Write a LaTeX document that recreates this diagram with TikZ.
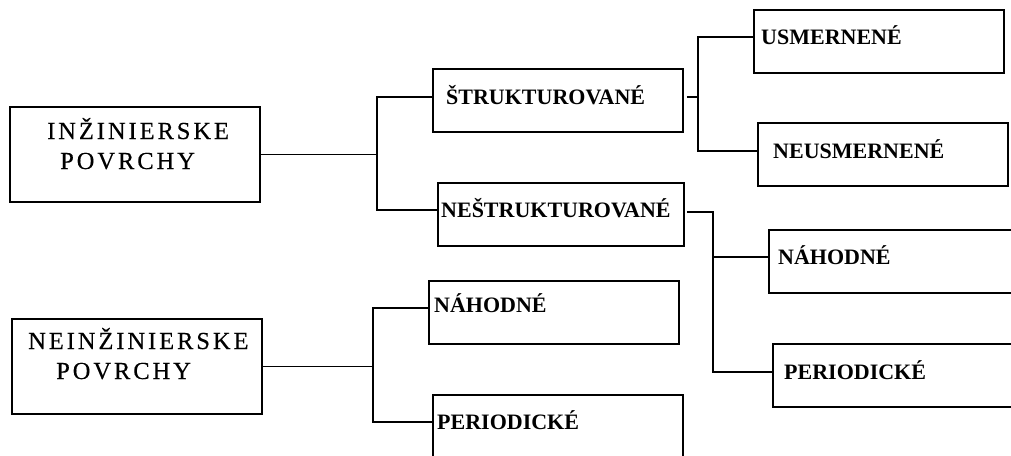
\documentclass[tikz,border=0pt]{standalone}
\usepackage{fontspec}
\setmainfont{Liberation Serif}
\newfontfamily\rootfont[LetterSpace=12,FakeBold=0.35]{Liberation Serif}
\usetikzlibrary{calc}
\begin{document}
\begin{tikzpicture}[x=1pt,y=-1pt,
  frame/.style={draw=black, line width=1.8pt, inner sep=0pt, anchor=north west},
  tag/.style={anchor=west, inner ysep=0pt, text height=14pt, text depth=0pt,
    font=\fontsize{22}{26}\selectfont\bfseries},
  rootline/.style={anchor=base west, inner sep=0pt, font=\fontsize{24.5}{30}\rootfont},
  wire/.style={line width=1.8pt, line join=miter}]
\useasboundingbox (0,0) rectangle (1011,455);
\clip (0,0) rectangle (1011,455);

% frames
\node[frame, minimum width=250pt, minimum height=95pt] (r1) at (9,106) {};
\node[frame, minimum width=250pt, minimum height=95pt] (r2) at (11,318) {};
\node[frame, minimum width=250pt, minimum height=63pt] (b1) at (432,68) {};
\node[frame, minimum width=246pt, minimum height=63pt] (b2) at (437,182) {};
\node[frame, minimum width=250pt, minimum height=63pt] (b3) at (753,9) {};
\node[frame, minimum width=250pt, minimum height=63pt] (b4) at (757,122) {};
\node[frame, minimum width=260pt, minimum height=63pt] (b5) at (768,229) {};
\node[frame, minimum width=260pt, minimum height=63pt] (b6) at (772,343) {};
\node[frame, minimum width=250pt, minimum height=63pt] (b7) at (428,280) {};
\node[frame, minimum width=250pt, minimum height=80pt] (b8) at (432,394) {};

% root captions
\node[rootline] (r1a) at (47,139) {INŽINIERSKE};
\node[rootline] (r1b) at (60,169) {POVRCHY};
\node[rootline] (r2a) at (28,349) {NEINŽINIERSKE};
\node[rootline] (r2b) at (56,379) {POVRCHY};

% category captions
\node[tag, inner xsep=14pt] (t1) at (432,97) {ŠTRUKTUROVANÉ};
\node[tag, inner xsep=4pt] (t2) at (437,210) {NEŠTRUKTUROVANÉ};
\node[tag, inner xsep=8pt] (t3) at (753,37) {USMERNENÉ};
\node[tag, inner xsep=16pt] (t4) at (757,151) {NEUSMERNENÉ};
\node[tag, inner xsep=10pt] (t5) at (768,257) {NÁHODNÉ};
\node[tag, inner xsep=12pt] (t6) at (772,372) {PERIODICKÉ};
\node[tag, inner xsep=6pt, text depth=6pt] (t7) at (428,308) {NÁHODNÉ};
\node[tag, inner xsep=5pt] (t8) at (432,422) {PERIODICKÉ};

% junctions
\coordinate (j1) at (377,154);
\coordinate (j2) at (698,97);
\coordinate (j3) at (713,212);
\coordinate (j4) at (373,366);

% connectors
\draw[wire] (r1.east) -- (r1.east -| j1);
\draw[wire] (t1.west) -| (j1) |- (t2.west);
\draw[wire] ($(b1.east |- j2)+(3pt,0)$) -- (j2);
\draw[wire] (t3.west) -| (j2) |- (t4.west);
\draw[wire] ($(b2.east |- j3)+(2pt,0)$) -- (j3) |- (t6.west);
\draw[wire] (t5.west) -- (t5.west -| j3);
\draw[wire] (r2.east) -- (r2.east -| j4);
\draw[wire] (t7.west) -| (j4) |- (t8.west);
\end{tikzpicture}
\end{document}
